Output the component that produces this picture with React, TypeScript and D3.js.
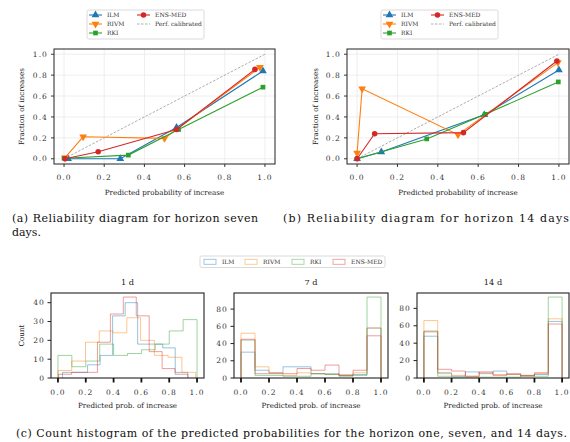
import React, { useRef, useEffect } from 'react';
import * as d3 from 'd3';

const { select, scaleLinear, line, symbol, symbolTriangle, symbolSquare, symbolCircle, format, range } = d3;

// models shared by every panel
const models = [`ILM`, `RIVM`, `RKI`, `ENS-MED`];
const modelColors = [`#1f77b4`, `#ff7f0e`, `#2ca02c`, `#d62728`];

// reliability diagram, horizon 7 days (predicted prob., observed fraction)
const rel7Pred = [
  [0.02, 0.28, 0.56, 0.99],
  [0.005, 0.095, 0.5, 0.975],
  [0.0, 0.32, 0.57, 0.99],
  [0.005, 0.17, 0.56, 0.95],
];
const rel7Frac = [
  [0.0, 0.0, 0.3, 0.84],
  [0.01, 0.21, 0.195, 0.875],
  [0.005, 0.035, 0.28, 0.685],
  [0.0, 0.067, 0.28, 0.855],
];

// reliability diagram, horizon 14 days
const rel14Pred = [
  [0.0, 0.12, 0.63, 1.0],
  [0.0, 0.025, 0.5, 0.995],
  [0.0, 0.345, 0.635, 0.997],
  [0.0, 0.087, 0.527, 0.99],
];
const rel14Frac = [
  [0.0, 0.065, 0.42, 0.85],
  [0.055, 0.67, 0.23, 0.92],
  [0.0, 0.19, 0.425, 0.735],
  [0.0, 0.24, 0.25, 0.935],
];

// histogram counts (10 bins between lo and hi for each model)
const hist1Range = [
  [0.033, 0.933],
  [0.0, 0.99],
  [0.0, 1.0],
  [0.005, 0.935],
];
const hist1Counts = [
  [3, 3, 7, 12, 33, 40, 18, 18, 16, 3],
  [4, 9, 19, 25, 24, 32, 20, 12, 11, 3],
  [12, 6, 9, 18, 12, 13, 15, 18, 25, 31],
  [2, 3, 3, 19, 34, 43, 33, 14, 5, 2],
];
const hist7Counts = [
  [30, 9, 6, 13, 13, 5, 5, 3, 4, 58],
  [52, 13, 6, 3, 6, 5, 4, 4, 6, 58],
  [44, 3, 3, 2, 2, 5, 4, 2, 3, 94],
  [45, 5, 5, 5, 11, 9, 15, 3, 9, 49],
];
const hist14Counts = [
  [48, 6, 2, 7, 5, 8, 4, 2, 4, 65],
  [66, 5, 3, 2, 6, 4, 4, 2, 5, 68],
  [54, 2, 1, 1, 1, 1, 1, 3, 2, 93],
  [53, 10, 8, 2, 7, 3, 5, 3, 6, 62],
];

const relTicks = [0, 0.2, 0.4, 0.6, 0.8, 1.0];
const histTitles = [`1 d`, `7 d`, `14 d`];
const histYTicks = [
  [0, 10, 20, 30, 40],
  [0, 20, 40, 60, 80],
  [0, 20, 40, 60, 80],
];

const FONT = `'DejaVu Serif', serif`;
const fmt = format(`.1f`);
const TICK_FS = 7.5;
const TICK_LS = 1.1;

const markerPath = (i: number) => {
  const types = [symbolTriangle, symbolTriangle, symbolSquare, symbolCircle];
  const sizes = [26, 26, 22, 24];
  return symbol(types[i], sizes[i])() as string;
};

export default function App() {
  const ref = useRef<SVGSVGElement>(null);

  useEffect(() => {
    if (!ref.current) return;
    const svg = select(ref.current);
    svg.selectAll(`*`).remove();

    // ---------- reliability diagrams ----------
    const relPanels = [
      { left: 54, right: 275, pred: rel7Pred, frac: rel7Frac, ylabX: 21.5, legX: 87 },
      { left: 347, right: 569, pred: rel14Pred, frac: rel14Frac, ylabX: 315, legX: 381 },
    ];
    const relTop = 49;
    const relBottom = 164;

    relPanels.forEach(p => {
      const x = scaleLinear().domain([-0.05, 1.05]).range([p.left, p.right]);
      const y = scaleLinear().domain([-0.05, 1.05]).range([relBottom, relTop]);
      const g = svg.append(`g`);

      // grid
      relTicks.forEach(t => {
        g.append(`line`)
          .attr(`x1`, x(t)).attr(`x2`, x(t))
          .attr(`y1`, relTop).attr(`y2`, relBottom)
          .attr(`stroke`, `#e6e6e6`).attr(`stroke-width`, 0.7);
        g.append(`line`)
          .attr(`x1`, p.left).attr(`x2`, p.right)
          .attr(`y1`, y(t)).attr(`y2`, y(t))
          .attr(`stroke`, `#e6e6e6`).attr(`stroke-width`, 0.7);
      });

      // perfectly calibrated
      g.append(`line`)
        .attr(`x1`, x(0)).attr(`y1`, y(0))
        .attr(`x2`, x(1)).attr(`y2`, y(1))
        .attr(`stroke`, `#999`).attr(`stroke-width`, 0.8)
        .attr(`stroke-dasharray`, `2.5,1.5`);

      // series
      models.forEach((m, i) => {
        const pts = p.pred[i].map((v, j) => [x(v), y(p.frac[i][j])] as [number, number]);
        g.append(`path`)
          .attr(`d`, line()(pts) as string)
          .attr(`fill`, `none`)
          .attr(`stroke`, modelColors[i])
          .attr(`stroke-width`, 1.1);
        pts.forEach(pt => {
          g.append(`path`)
            .attr(`d`, markerPath(i))
            .attr(`fill`, modelColors[i])
            .attr(`transform`, `translate(${pt[0]},${pt[1]})${i === 1 ? ` rotate(180)` : ``}`);
        });
      });

      // spines
      g.append(`rect`)
        .attr(`x`, p.left).attr(`y`, relTop)
        .attr(`width`, p.right - p.left).attr(`height`, relBottom - relTop)
        .attr(`fill`, `none`).attr(`stroke`, `#222`).attr(`stroke-width`, 1);

      // ticks
      relTicks.forEach(t => {
        g.append(`line`)
          .attr(`x1`, x(t)).attr(`x2`, x(t))
          .attr(`y1`, relBottom).attr(`y2`, relBottom + 3)
          .attr(`stroke`, `#222`).attr(`stroke-width`, 0.9);
        g.append(`text`)
          .attr(`x`, x(t)).attr(`y`, relBottom + 15.5)
          .attr(`text-anchor`, `middle`)
          .attr(`font-size`, TICK_FS).attr(`letter-spacing`, TICK_LS)
          .attr(`fill`, `#333`)
          .text(fmt(t));
        g.append(`line`)
          .attr(`x1`, p.left - 3).attr(`x2`, p.left)
          .attr(`y1`, y(t)).attr(`y2`, y(t))
          .attr(`stroke`, `#222`).attr(`stroke-width`, 0.9);
        g.append(`text`)
          .attr(`x`, p.left - 6).attr(`y`, y(t) + 2.7)
          .attr(`text-anchor`, `end`)
          .attr(`font-size`, TICK_FS).attr(`letter-spacing`, TICK_LS)
          .attr(`fill`, `#333`)
          .text(fmt(t));
      });

      g.append(`text`)
        .attr(`x`, (p.left + p.right) / 2).attr(`y`, 194.5)
        .attr(`text-anchor`, `middle`).attr(`font-size`, 7.2)
        .attr(`fill`, `#222`)
        .text(`Predicted probability of increase`);
      g.append(`text`)
        .attr(`transform`, `translate(${p.ylabX},${(relTop + relBottom) / 2}) rotate(-90)`)
        .attr(`text-anchor`, `middle`).attr(`dy`, `0.35em`).attr(`font-size`, 7.2)
        .attr(`fill`, `#222`)
        .text(`Fraction of increases`);

      // legend
      const lg = g.append(`g`).attr(`transform`, `translate(${p.legX},10)`);
      lg.append(`rect`)
        .attr(`width`, 117).attr(`height`, 29).attr(`rx`, 1.5)
        .attr(`fill`, `white`).attr(`stroke`, `#d0d0d0`).attr(`stroke-width`, 0.8);
      const entries = [
        { col: 0, row: 0, i: 0 },
        { col: 0, row: 1, i: 1 },
        { col: 0, row: 2, i: 2 },
        { col: 1, row: 0, i: 3 },
      ];
      entries.forEach(e => {
        const lx = 2 + e.col * 48;
        const ly = 5 + e.row * 9;
        lg.append(`line`)
          .attr(`x1`, lx).attr(`x2`, lx + 13)
          .attr(`y1`, ly).attr(`y2`, ly)
          .attr(`stroke`, modelColors[e.i]).attr(`stroke-width`, 1.1);
        lg.append(`path`)
          .attr(`d`, markerPath(e.i))
          .attr(`fill`, modelColors[e.i])
          .attr(`transform`, `translate(${lx + 6.5},${ly})${e.i === 1 ? ` rotate(180)` : ``}`);
        lg.append(`text`)
          .attr(`x`, lx + 18).attr(`y`, ly + 2.2)
          .attr(`font-size`, 6).attr(`fill`, `#333`)
          .text(models[e.i]);
      });
      lg.append(`line`)
        .attr(`x1`, 50).attr(`x2`, 63)
        .attr(`y1`, 14).attr(`y2`, 14)
        .attr(`stroke`, `#999`).attr(`stroke-width`, 0.8)
        .attr(`stroke-dasharray`, `2.5,1.5`);
      lg.append(`text`)
        .attr(`x`, 68).attr(`y`, 16.2)
        .attr(`font-size`, 6).attr(`fill`, `#333`)
        .text(`Perf. calibrated`);
    });

    // ---------- histograms ----------
    const histPanels = [
      { left: 51, right: 204, counts: hist1Counts, ranges: hist1Range },
      { left: 234, right: 388, counts: hist7Counts, ranges: models.map(() => [0, 1]) },
      { left: 417, right: 569, counts: hist14Counts, ranges: models.map(() => [0, 1]) },
    ];
    const hTop = 293;
    const hBottom = 378;

    histPanels.forEach((p, k) => {
      const maxCount = Math.max(...p.counts.map(c => Math.max(...c)));
      const x = scaleLinear().domain([-0.05, 1.05]).range([p.left, p.right]);
      const y = scaleLinear().domain([0, maxCount * 1.05]).range([hBottom, hTop]);
      const g = svg.append(`g`);

      models.forEach((m, i) => {
        const [lo, hi] = p.ranges[i];
        const edges = range(11).map(j => lo + ((hi - lo) * j) / 10);
        const pts: [number, number][] = [[x(lo), y(0)]];
        p.counts[i].forEach((c, j) => {
          pts.push([x(edges[j]), y(c)]);
          pts.push([x(edges[j + 1]), y(c)]);
        });
        pts.push([x(hi), y(0)]);
        g.append(`path`)
          .attr(`d`, line()(pts) as string)
          .attr(`fill`, `none`)
          .attr(`stroke`, modelColors[i])
          .attr(`stroke-opacity`, 0.45)
          .attr(`stroke-width`, 1);
      });

      g.append(`rect`)
        .attr(`x`, p.left).attr(`y`, hTop)
        .attr(`width`, p.right - p.left).attr(`height`, hBottom - hTop)
        .attr(`fill`, `none`).attr(`stroke`, `#222`).attr(`stroke-width`, 1.1);

      relTicks.forEach(t => {
        g.append(`line`)
          .attr(`x1`, x(t)).attr(`x2`, x(t))
          .attr(`y1`, hBottom).attr(`y2`, hBottom + 4.5)
          .attr(`stroke`, `#111`).attr(`stroke-width`, 1.8);
        g.append(`text`)
          .attr(`x`, x(t)).attr(`y`, hBottom + 16.5)
          .attr(`text-anchor`, `middle`)
          .attr(`font-size`, TICK_FS).attr(`letter-spacing`, TICK_LS)
          .attr(`fill`, `#333`)
          .text(fmt(t));
      });
      histYTicks[k].forEach(t => {
        g.append(`line`)
          .attr(`x1`, p.left - 3.5).attr(`x2`, p.left)
          .attr(`y1`, y(t)).attr(`y2`, y(t))
          .attr(`stroke`, `#222`).attr(`stroke-width`, 1);
        g.append(`text`)
          .attr(`x`, p.left - 6).attr(`y`, y(t) + 2.7)
          .attr(`text-anchor`, `end`)
          .attr(`font-size`, TICK_FS).attr(`letter-spacing`, TICK_LS)
          .attr(`fill`, `#333`)
          .text(String(t));
      });

      g.append(`text`)
        .attr(`x`, (p.left + p.right) / 2).attr(`y`, 285)
        .attr(`text-anchor`, `middle`).attr(`font-size`, 8.2)
        .attr(`fill`, `#222`)
        .text(histTitles[k]);
      g.append(`text`)
        .attr(`x`, (p.left + p.right) / 2).attr(`y`, 407.5)
        .attr(`text-anchor`, `middle`).attr(`font-size`, 7.2)
        .attr(`fill`, `#222`)
        .text(`Predicted prob. of increase`);
      if (k === 0) {
        g.append(`text`)
          .attr(`transform`, `translate(21,${(hTop + hBottom) / 2}) rotate(-90)`)
          .attr(`text-anchor`, `middle`).attr(`dy`, `0.35em`).attr(`font-size`, 7.2)
          .attr(`fill`, `#222`)
          .text(`Count`);
      }
    });

    // histogram legend
    const hl = svg.append(`g`).attr(`transform`, `translate(200,256)`);
    hl.append(`rect`)
      .attr(`width`, 185).attr(`height`, 11.5).attr(`rx`, 1.5)
      .attr(`fill`, `white`).attr(`stroke`, `#d0d0d0`).attr(`stroke-width`, 0.8);
    const patchX = [4, 45, 92, 133];
    models.forEach((m, i) => {
      hl.append(`rect`)
        .attr(`x`, patchX[i]).attr(`y`, 3.3)
        .attr(`width`, 12).attr(`height`, 5)
        .attr(`fill`, `none`)
        .attr(`stroke`, modelColors[i]).attr(`stroke-opacity`, 0.45)
        .attr(`stroke-width`, 0.9);
      hl.append(`text`)
        .attr(`x`, patchX[i] + 18).attr(`y`, 8)
        .attr(`font-size`, 6).attr(`fill`, `#333`)
        .text(m);
    });

    // captions
    const cap = (txt: string, xx: number, yy: number, len?: number) => {
      const t = svg.append(`text`)
        .attr(`x`, xx).attr(`y`, yy)
        .attr(`font-size`, 11).attr(`fill`, `#111`)
        .text(txt);
      if (len) t.attr(`textLength`, len).attr(`lengthAdjust`, `spacing`);
    };
    cap(`(a) Reliability diagram for horizon seven`, 12, 222, 246);
    cap(`days.`, 12, 235.5);
    cap(`(b) Reliability diagram for horizon 14 days`, 283, 222, 286);
    cap(`(c) Count histogram of the predicted probabilities for the horizon one, seven, and 14 days.`, 16, 436.5, 551);
  }, []);

  return (
    <svg
      ref={ref}
      width={570}
      height={442}
      style={{ position: `absolute`, left: 0, top: 0, background: `white`, fontFamily: FONT }}
    />
  );
}
